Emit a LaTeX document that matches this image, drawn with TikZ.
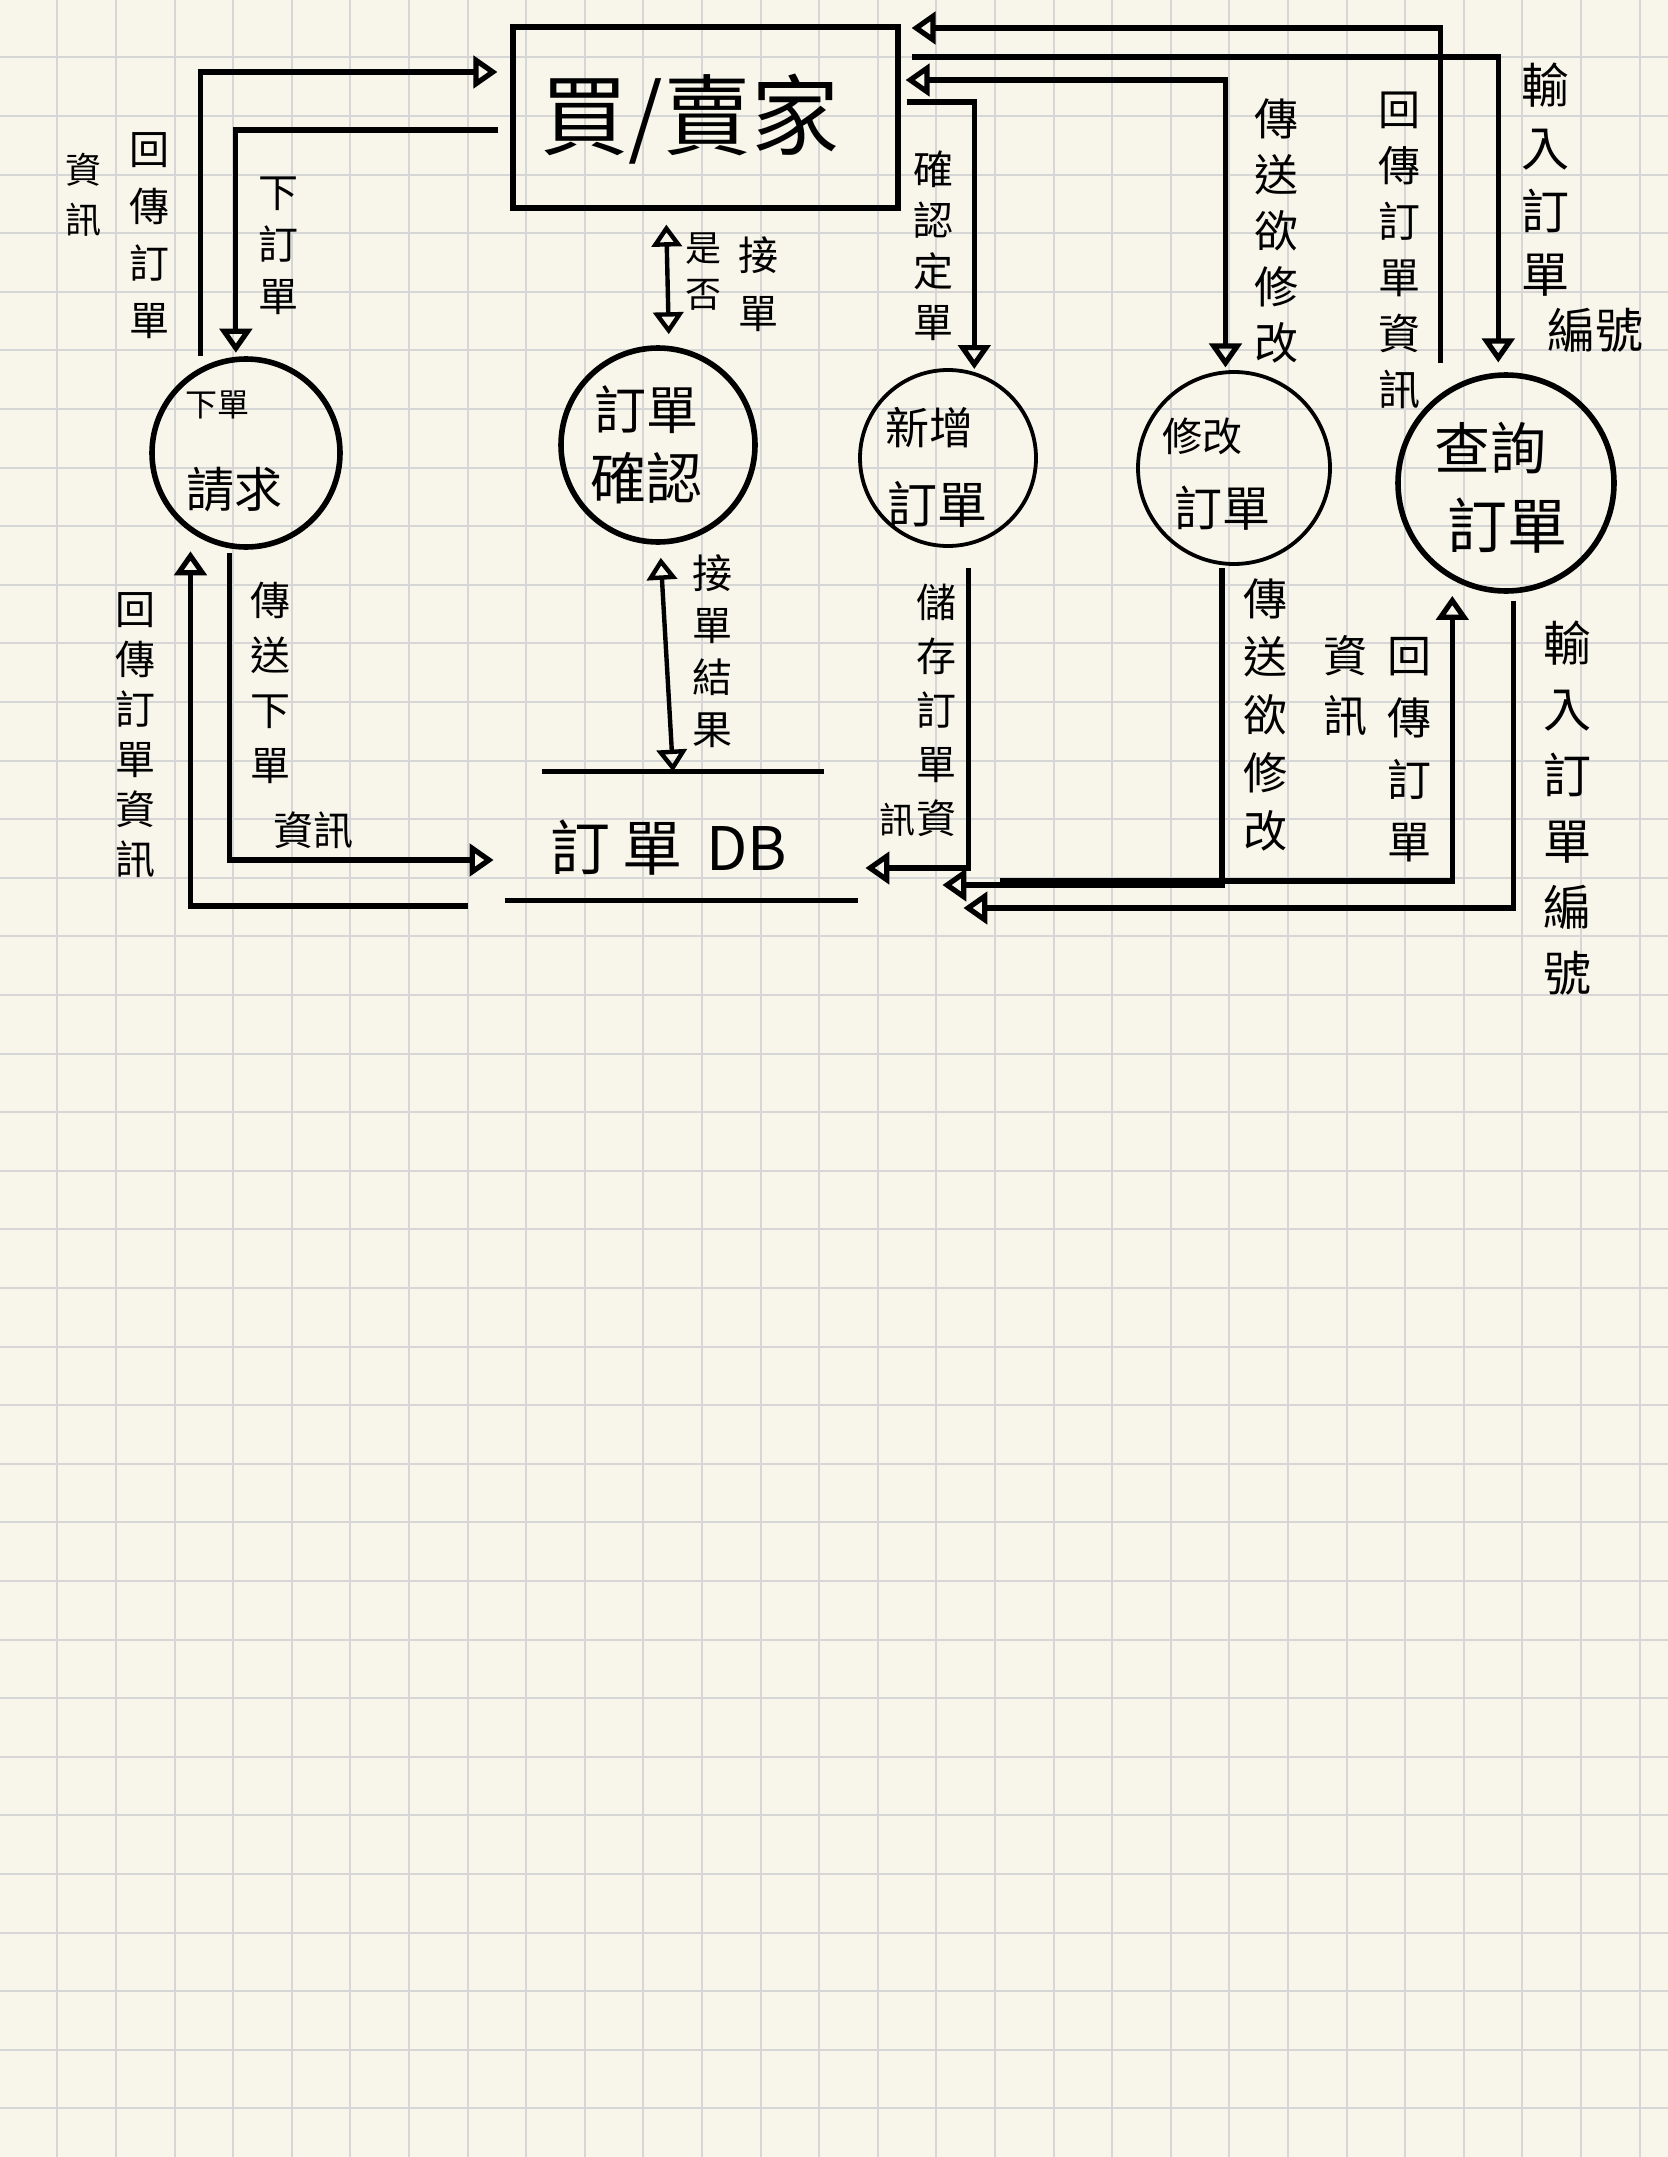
\documentclass[tikz,border=0pt]{standalone}
\usepackage{fontspec}
\setmainfont{Noto Sans CJK TC}
\usetikzlibrary{arrows.meta}
\definecolor{paper}{HTML}{F8F6EA}
\definecolor{gridc}{HTML}{D6D6D6}
\begin{document}
\begin{tikzpicture}[x=0.5pt,y=-0.5pt,
  gridline/.style={gridc, line width=1pt},
  tipA/.tip={Triangle[open,length=12pt,width=16pt]},
  flow/.style={line width=2.6pt, -tipA},
  dflow/.style={line width=2.2pt, {Triangle[open,length=11pt,width=15pt]}-{Triangle[open,length=11pt,width=15pt]}},
  proc/.style={circle, draw, line width=2.8pt, inner sep=0pt},
  procthin/.style={circle, draw, line width=1.9pt, inner sep=0pt},
  vl/.style 2 args={align=center, inner sep=0pt, font=\fontsize{#1}{#2}\selectfont},
  hl/.style={inner sep=0pt, font=\fontsize{#1}{#1}\selectfont},
  dbstore/.style={inner sep=0pt, minimum width=176.5pt, minimum height=64pt}
]
\useasboundingbox (0,0) rectangle (1668,2157);
\fill[paper] (0,0) rectangle (1668,2157);
\foreach \i in {0,...,27} \draw[gridline] ({57.4+58.6*\i},0) -- ({57.4+58.6*\i},2157);
\foreach \i in {0,...,35} \draw[gridline] (0,{57.4+58.6*\i}) -- (1668,{57.4+58.6*\i});

% external entity
\node[draw, line width=2.6pt, inner sep=0pt, minimum width=192.5pt, minimum height=90.5pt] (box) at (705.5,117.5) {};
\node[hl=44] (boxl) at (690,119) {買/賣家};

% processes
\node[proc, minimum size=94pt] (c1) at (246,453) {};
\node[proc, minimum size=97pt] (c2) at (658,445) {};
\node[procthin, minimum size=88pt] (c3) at (948,458) {};
\node[procthin, minimum size=96pt] (c4) at (1234,468) {};
\node[proc, minimum size=108pt] (c5) at (1506,483) {};

\node[hl=16] (c1a) at (217,405) {下單};
\node[hl=24] (c1b) at (234,490) {請求};
\node[hl=26] (c2a) at (646,410) {訂單};
\node[hl=28] (c2b) at (646,478) {確認};
\node[hl=22] (c3a) at (929,428) {新增};
\node[hl=25] (c3b) at (937,504) {訂單};
\node[hl=20] (c4a) at (1202,436) {修改};
\node[hl=24] (c4b) at (1222,508) {訂單};
\node[hl=28] (c5a) at (1490,448) {查詢};
\node[hl=30] (c5b) at (1507,526) {訂單};

% data store
\node[dbstore] (db) at (681.5,836) {};
\draw[line width=2.6pt] ([xshift=18.5pt]db.north west) -- ([xshift=-17pt]db.north east);
\draw[line width=2.6pt] (db.south west) -- (db.south east);
\node[hl=30] (dbl) at (669,848) {訂\hspace{6pt}單\hspace{12pt}DB};

% connectors
\draw[flow, shorten <=6pt, shorten >=6.5pt] (c1.118) |- (box.west |- 0,72);
\draw[flow, shorten <=6pt, shorten >=2pt] (box.west |- 0,130) -| (c1.96);
\draw[dflow, shorten <=7pt, shorten >=5.5pt] (box.south -| 666,0) -- (c2.north -| 669,0);
\draw[dflow, shorten <=6.5pt, shorten >=0pt] (c2.south -| 660,0) -- (db.north -| 673,0);
\draw[flow, shorten <=2.5pt, shorten >=5.5pt] (c1.260) |- (db.west |- 0,860);
\draw[flow, shorten <=18.5pt, shorten >=9.5pt] (db.west |- 0,906) -| (c1.235);

\draw[flow, shorten <=15pt, shorten >=5.5pt] (c5.126) |- (box.east |- 0,28);
\draw[flow, shorten <=5.5pt, shorten >=5pt] (box.east |- 0,57) -| (c5.94);
\draw[flow, tipA-tipA, shorten <=2.5pt, shorten >=1.5pt] (box.east |- 0,80) -| (c4.95);
\draw[flow, shorten <=3pt, shorten >=1.5pt] (box.east |- 0,102) -| (c3.73);

\draw[flow, shorten <=11pt, shorten >=3.5pt] (c3.283) |- (db.east |- 0,868);
\draw[flow, shorten <=1.5pt, shorten >=42pt] (c4.263) |- (db.east |- 0,885);
\draw[flow, shorten <=71pt, shorten >=8pt] (db.east |- 0,881) -| (c5.241);
\draw[flow, shorten <=3.5pt, shorten >=52.5pt] (c5.274) |- (db.east |- 0,908);

% labels
\node[vl={20}{28.5}] (l1) at (149,236) {回\\傳\\訂\\單};
\node[vl={18}{25}] (l2) at (83,195) {資\\訊};
\node[vl={20}{26}] (l3) at (278,246) {下\\訂\\單};
\node[vl={18}{23}] (l4) at (703,272) {是\\否};
\node[vl={20}{29}] (l5) at (758,284) {接\\單};
\node[vl={20}{25.5}] (l6) at (933,246) {確\\認\\定\\單};
\node[vl={22}{28}] (l7) at (1276,231) {傳\\送\\欲\\修\\改};
\node[vl={21}{28}] (l8) at (1399,250) {回\\傳\\訂\\單\\資\\訊};
\node[vl={24}{31.5}] (l9) at (1545,180) {輸\\入\\訂\\單};
\node[hl=24] (l10) at (1595,330) {編號};
\node[vl={20}{26}] (l11) at (712,651) {接\\單\\結\\果};
\node[vl={20}{27.5}] (l12) at (270,683) {傳\\送\\下\\單};
\node[hl=20] (l13) at (313,830) {資訊};
\node[vl={20}{25}] (l14) at (135,735) {回\\傳\\訂\\單\\資\\訊};
\node[vl={20}{27}] (l15) at (936,710) {儲\\存\\訂\\單\\資};
\node[hl=18] (l16) at (897,820) {訊};
\node[vl={22}{29}] (l17) at (1265,715) {傳\\送\\欲\\修\\改};
\node[vl={22}{31}] (l18) at (1409,750) {回\\傳\\訂\\單};
\node[vl={22}{30}] (l19) at (1345,686) {資\\訊};
\node[vl={24}{33}] (l20) at (1567,808) {輸\\入\\訂\\單\\編\\號};
\end{tikzpicture}
\end{document}
